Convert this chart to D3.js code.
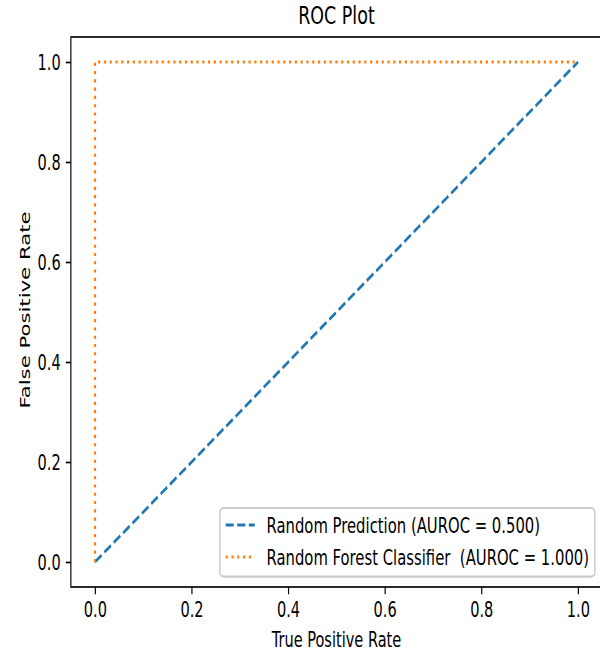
<!DOCTYPE html>
<html>
<head>
<meta charset="utf-8">
<script src="https://cdn.jsdelivr.net/npm/d3@7"></script>
<style>
  html, body { margin: 0; padding: 0; background: #fff; }
  svg { display: block; }
  text { font-family: "DejaVu Sans", sans-serif; fill: #000; white-space: pre; }
</style>
</head>
<body>
<script>
// ROC curves
const randomFpr = [0, 1];
const randomTpr = [0, 1];
const forestFpr = [0, 0, 1];
const forestTpr = [0, 1, 1];

const seriesNames = [
  "Random Prediction (AUROC = 0.500)",
  "Random Forest Classifier  (AUROC = 1.000)"
];
const tickValues = [0.0, 0.2, 0.4, 0.6, 0.8, 1.0];
const titleText = "ROC Plot";
const xLabelText = "True Positive Rate";
const yLabelText = "False Positive Rate";

// Figure is drawn in a wider user space and squeezed horizontally to 600px.
const outW = 600, outH = 653;
const sx = 0.70;
const W = outW / sx, H = outH;
const fs = 20.8;            // base font size (10pt)
const pt = fs / 10;         // one point in px
const tickLen = 3.5 * pt, tickPad = 3.5 * pt;

const svg = d3.select("body").append("svg")
  .attr("width", outW).attr("height", outH)
  .attr("viewBox", `0 0 ${W} ${H}`)
  .attr("preserveAspectRatio", "none");

const x = d3.scaleLinear().domain([-0.05, 1.05])
  .range([(95 - 24.15) / sx, (578 + 24.15) / sx]);
const y = d3.scaleLinear().domain([-0.05, 1.05]).range([587, 37]);

const [x0, x1] = x.range();
const [y0, y1] = y.range();

// Axes frame
svg.append("rect")
  .attr("x", x0).attr("y", y1)
  .attr("width", x1 - x0).attr("height", y0 - y1)
  .attr("fill", "none").attr("stroke", "#000").attr("stroke-width", 0.8 * pt);

// X axis
const gx = svg.append("g").attr("transform", `translate(0,${y0})`)
  .call(d3.axisBottom(x).tickValues(tickValues).tickFormat(d3.format(".1f"))
    .tickSize(tickLen).tickSizeOuter(0));
gx.select(".domain").remove();
gx.selectAll(".tick line").attr("stroke", "#000").attr("stroke-width", 0.8 * pt);
gx.selectAll(".tick text")
  .attr("y", 617 - y0).attr("dy", null)
  .attr("font-size", fs).attr("fill", "#000");

// Y axis
const gy = svg.append("g").attr("transform", `translate(${x0},0)`)
  .call(d3.axisLeft(y).tickValues(tickValues).tickFormat(d3.format(".1f"))
    .tickSize(tickLen).tickPadding(tickPad).tickSizeOuter(0));
gy.select(".domain").remove();
gy.selectAll(".tick line").attr("stroke", "#000").attr("stroke-width", 0.8 * pt);
gy.selectAll(".tick text")
  .attr("dy", null).attr("y", 0.729 * fs / 2)
  .attr("font-size", fs).attr("fill", "#000");

svg.selectAll(".tick text").attr("font-family", "DejaVu Sans, sans-serif");

// Curves
const dashed = `${3.7 * 1.5 * pt} ${1.6 * 1.5 * pt}`;
const dotted = `${1 * 1.5 * pt} ${1.65 * 1.5 * pt}`;
const line = d3.line().x(d => x(d[0])).y(d => y(d[1]));
svg.append("path")
  .datum(d3.zip(randomFpr, randomTpr))
  .attr("d", line)
  .attr("fill", "none").attr("stroke", "#1f77b4")
  .attr("stroke-width", 1.5 * pt)
  .attr("stroke-dasharray", dashed);
svg.append("path")
  .datum(d3.zip(forestFpr, forestTpr))
  .attr("d", line)
  .attr("fill", "none").attr("stroke", "#ff7f0e")
  .attr("stroke-width", 1.5 * pt)
  .attr("stroke-dasharray", dotted);

// Title and axis labels
svg.append("text")
  .attr("x", (x0 + x1) / 2).attr("y", 24.5)
  .attr("text-anchor", "middle").attr("font-size", fs * 1.2)
  .text(titleText);
svg.append("text")
  .attr("x", (x0 + x1) / 2).attr("y", 647)
  .attr("text-anchor", "middle").attr("font-size", fs)
  .text(xLabelText);
svg.append("text")
  .attr("transform", `translate(${30 / sx},${(y0 + y1) / 2 - 2}) rotate(-90)`)
  .attr("text-anchor", "middle").attr("font-size", fs * 1.02)
  .text(yLabelText);

// Legend (lower right)
const legendStyles = [
  { color: "#1f77b4", dash: dashed },
  { color: "#ff7f0e", dash: dotted }
];
const lfs = 21.2;
const gLeg = svg.append("g");
const frame = gLeg.append("rect");
const labels = gLeg.selectAll("text.leg").data(seriesNames).join("text")
  .attr("class", "leg").attr("font-size", lfs)
  .attr("xml:space", "preserve")
  .text(d => d);
const maxW = d3.max(labels.nodes(), n => n.getComputedTextLength());
const borderPad = 0.4 * fs, handleLen = 2.0 * fs, handlePad = 0.8 * fs;
const legRight = x1 - 0.5 * fs;
const legBottom = y0 - 0.5 * fs;
const legTop = 508;
const legLeft = legRight - (borderPad + handleLen + handlePad + maxW + borderPad);
frame
  .attr("x", legLeft).attr("y", legTop)
  .attr("width", legRight - legLeft).attr("height", legBottom - legTop)
  .attr("rx", 4 / sx).attr("ry", 4)
  .attr("fill", "#fff").attr("fill-opacity", 0.8)
  .attr("stroke", "#cccccc").attr("stroke-width", 1 * pt);
const rowBase = [533, 565];
labels.attr("x", legLeft + borderPad + handleLen + handlePad)
  .attr("y", (d, i) => rowBase[i]);
gLeg.selectAll("line.h").data(legendStyles).join("line")
  .attr("class", "h")
  .attr("x1", legLeft + borderPad).attr("x2", legLeft + borderPad + handleLen)
  .attr("y1", (d, i) => rowBase[i] - 8).attr("y2", (d, i) => rowBase[i] - 8)
  .attr("stroke", d => d.color).attr("stroke-width", 1.5 * pt)
  .attr("stroke-dasharray", d => d.dash);
</script>
</body>
</html>
